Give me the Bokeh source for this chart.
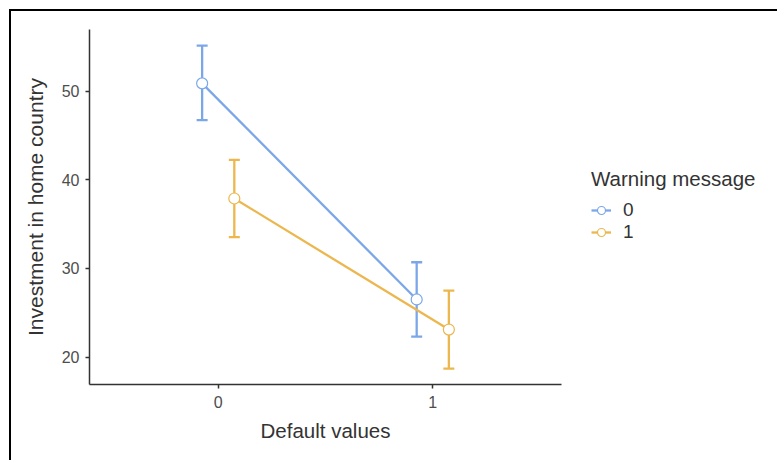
from bokeh.plotting import figure
from bokeh.models import (Range1d, ColumnDataSource, Whisker, TeeHead, Legend,
                          LegendItem, FixedTicker, Title)
from bokeh.embed import file_html
from bokeh.resources import INLINE

# ---- data ----
categories = ["0", "1"]          # Default values
groups = ["0", "1"]              # Warning message
means_0 = [50.9, 26.5]
lower_0 = [46.75, 22.3]
upper_0 = [55.15, 30.7]
means_1 = [37.9, 23.1]
lower_1 = [33.55, 18.7]
upper_1 = [42.25, 27.5]
dodge = [-0.075, 0.075]
colors = ["#7BA7E8", "#EBB74E"]

FONT = "Liberation Sans"

# visible axis extent is -0.6..1.6 over 472px; the frame is extended to the
# right edge so the legend (drawn inside the frame) is not clipped
X0, X1 = -0.6, 1.6
px_per_unit = 472 / (X1 - X0)
x_end = X0 + 688 / px_per_unit

p = figure(width=777, height=460, output_backend="svg", toolbar_location=None,
           x_range=Range1d(X0, x_end), y_range=Range1d(16.9, 56.98),
           min_border_left=89, min_border_right=0, min_border_top=29,
           min_border_bottom=76)
p.outline_line_color = None
p.xgrid.visible = False
p.ygrid.visible = False
p.border_fill_alpha = 0
p.background_fill_color = "white"
p.styles = {
    "background": ("linear-gradient(#000, #000) 9px 9px / 900px 2px no-repeat, "
                   "linear-gradient(#000, #000) 9px 9px / 2px 700px no-repeat, "
                   "#ffffff"),
}

series = [(means_0, lower_0, upper_0), (means_1, lower_1, upper_1)]
items = []
for gi, (m, lo, up) in enumerate(series):
    xs = [i + dodge[gi] for i in range(len(categories))]
    src = ColumnDataSource(dict(x=xs, y=m, lower=lo, upper=up))
    c = colors[gi]
    w = Whisker(base="x", upper="upper", lower="lower", source=src,
                line_color=c, line_width=2.3,
                upper_head=TeeHead(size=11, line_color=c, line_width=2.3),
                lower_head=TeeHead(size=11, line_color=c, line_width=2.3))
    p.add_layout(w)
    ln = p.line("x", "y", source=src, line_color=c, line_width=2.3)
    sc = p.scatter("x", "y", source=src, size=11, marker="circle",
                   fill_color="white", line_color=c, line_width=1.2)
    items.append(LegendItem(label=groups[gi], renderers=[ln, sc]))

legend = Legend(items=items, location=(502, 141), title="Warning message",
                title_text_font=FONT, title_text_font_size="20.5px",
                title_text_color="#333333", title_text_font_style="normal",
                label_text_font=FONT, label_text_font_size="19px",
                label_text_color="#333333",
                glyph_width=20, glyph_height=22, label_height=20,
                spacing=0, label_standoff=12,
                title_standoff=8, padding=0, margin=0,
                border_line_alpha=0, background_fill_alpha=0)
p.add_layout(legend)

for ax in (p.xaxis[0], p.yaxis[0]):
    ax.axis_line_color = "#333333"
    ax.axis_line_width = 1.5
    ax.major_tick_line_color = "#333333"
    ax.major_tick_line_width = 1.5
    ax.major_tick_out = 4
    ax.major_tick_in = 0
    ax.minor_tick_line_color = None
    ax.major_label_text_font = FONT
    ax.major_label_text_font_size = "16px"
    ax.major_label_text_color = "#4D4D4D"
    ax.axis_label_text_font = FONT
    ax.axis_label_text_font_size = "21px"
    ax.axis_label_text_font_style = "normal"
    ax.axis_label_text_color = "#333333"

p.xaxis.bounds = (X0, X1)
p.xaxis.ticker = FixedTicker(ticks=[0, 1])
p.xaxis.major_label_overrides = {0: categories[0], 1: categories[1]}
p.yaxis.ticker = FixedTicker(ticks=[20, 30, 40, 50])
p.yaxis.axis_label = "Investment in home country"
p.xaxis.major_label_standoff = 7
p.yaxis.major_label_standoff = 6
p.yaxis.axis_label_standoff = 12

# x-axis title, centred under the visible axis (-0.6..1.6)
x_title_text = "Default values"
x_title_size = 20.5
x_title_width = 6.336 * x_title_size          # Arial-metric advance widths
x_title_offset = (0.5 - X0) * px_per_unit - x_title_width / 2
xt = Title(text=x_title_text, align="left", offset=x_title_offset,
           text_font=FONT, text_font_size=f"{x_title_size}px",
           text_font_style="normal", text_color="#333333", standoff=12)
p.add_layout(xt, "below")

open("out.html", "w").write(file_html(p, INLINE))
